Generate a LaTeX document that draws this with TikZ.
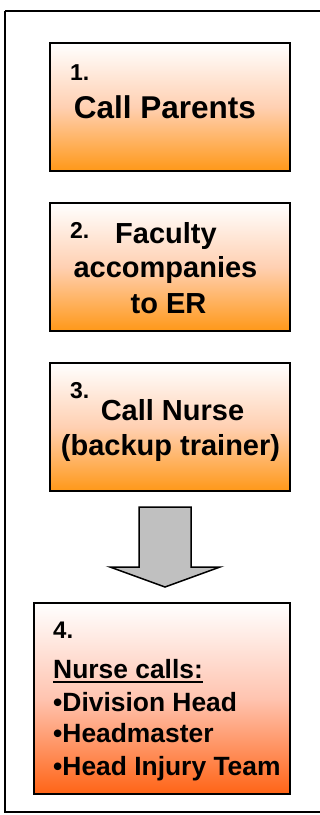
\documentclass[tikz,border=0pt]{standalone}
\usepackage{fontspec}
\setmainfont{Liberation Sans}
\begin{document}
\begin{tikzpicture}[x=1pt,y=-1pt,
  stepbox/.style={draw=black, line width=2pt, inner sep=0pt,
    top color=white, bottom color=orangeB, middle color=peachA,
    minimum width=240pt, minimum height=128pt},
  lastbox/.style={draw=black, line width=2pt, inner sep=0pt,
    top color=white, bottom color=redorange, middle color=pinkA,
    minimum width=256pt, minimum height=191pt},
  num/.style={anchor=base west, inner sep=0pt, font=\bfseries\fontsize{23}{23}\selectfont},
  big/.style={anchor=base, inner sep=0pt, font=\bfseries\fontsize{29}{29}\selectfont},
  item/.style={anchor=base west, inner sep=0pt, font=\bfseries\fontsize{26.4}{26.4}\selectfont},
  blockarrow/.style={draw=black, line width=1.5pt, fill=arrowgray, line join=miter}
]
\definecolor{orangeB}{RGB}{255,152,24}
\definecolor{peachA}{RGB}{255,208,178}
\definecolor{redorange}{RGB}{255,100,22}
\definecolor{pinkA}{RGB}{255,196,176}
\definecolor{arrowgray}{RGB}{192,192,192}
\useasboundingbox (0,0) rectangle (320,815);

% outer frame (right side runs past the page edge)
\draw[line width=2pt] (5,11) -- (330,11) (5,11) -- (5,812) -- (330,812);

% step boxes
\node[stepbox] (b1) at (170,107) {};
\node[stepbox] (b2) at (170,267) {};
\node[stepbox] (b3) at (170,427) {};
\node[lastbox] (b4) at (162,698.5) {};

% step 1
\node[num] (n1) at (70,80) {1.};
\node[big, font=\bfseries\fontsize{31.5}{31.5}\selectfont] (t1) at (165,118) {Call Parents};

% step 2
\node[num] (n2) at (70,238) {2.};
\node[big] (t2a) at (166,243) {Faculty};
\node[big] (t2b) at (165.5,277) {accompanies};
\node[big] (t2c) at (168.5,313) {to ER};

% step 3
\node[num] (n3) at (70,398) {3.};
\node[big] (t3a) at (172.5,420) {Call Nurse};
\node[big] (t3b) at (170.5,455) {(backup trainer)};

% block arrow between step 3 and step 4
\draw[blockarrow] (139,507) -- (191,507) -- (191,567) -- (220,567)
  -- (165,587) -- (110,567) -- (139,567) -- cycle;

% step 4
\node[num, font=\bfseries\fontsize{24}{24}\selectfont] (n4) at (53,638) {4.};
\node[item] (t4) at (53,678) {Nurse calls:};
\draw[line width=1.8pt] ([yshift=-4pt]t4.base west) -- ([yshift=-4pt]t4.base east);
\node[item] (i1) at (53,711) {•Division Head};
\node[item] (i2) at (53,742) {•Headmaster};
\node[item] (i3) at (53,775) {•Head Injury Team};
\end{tikzpicture}
\end{document}
